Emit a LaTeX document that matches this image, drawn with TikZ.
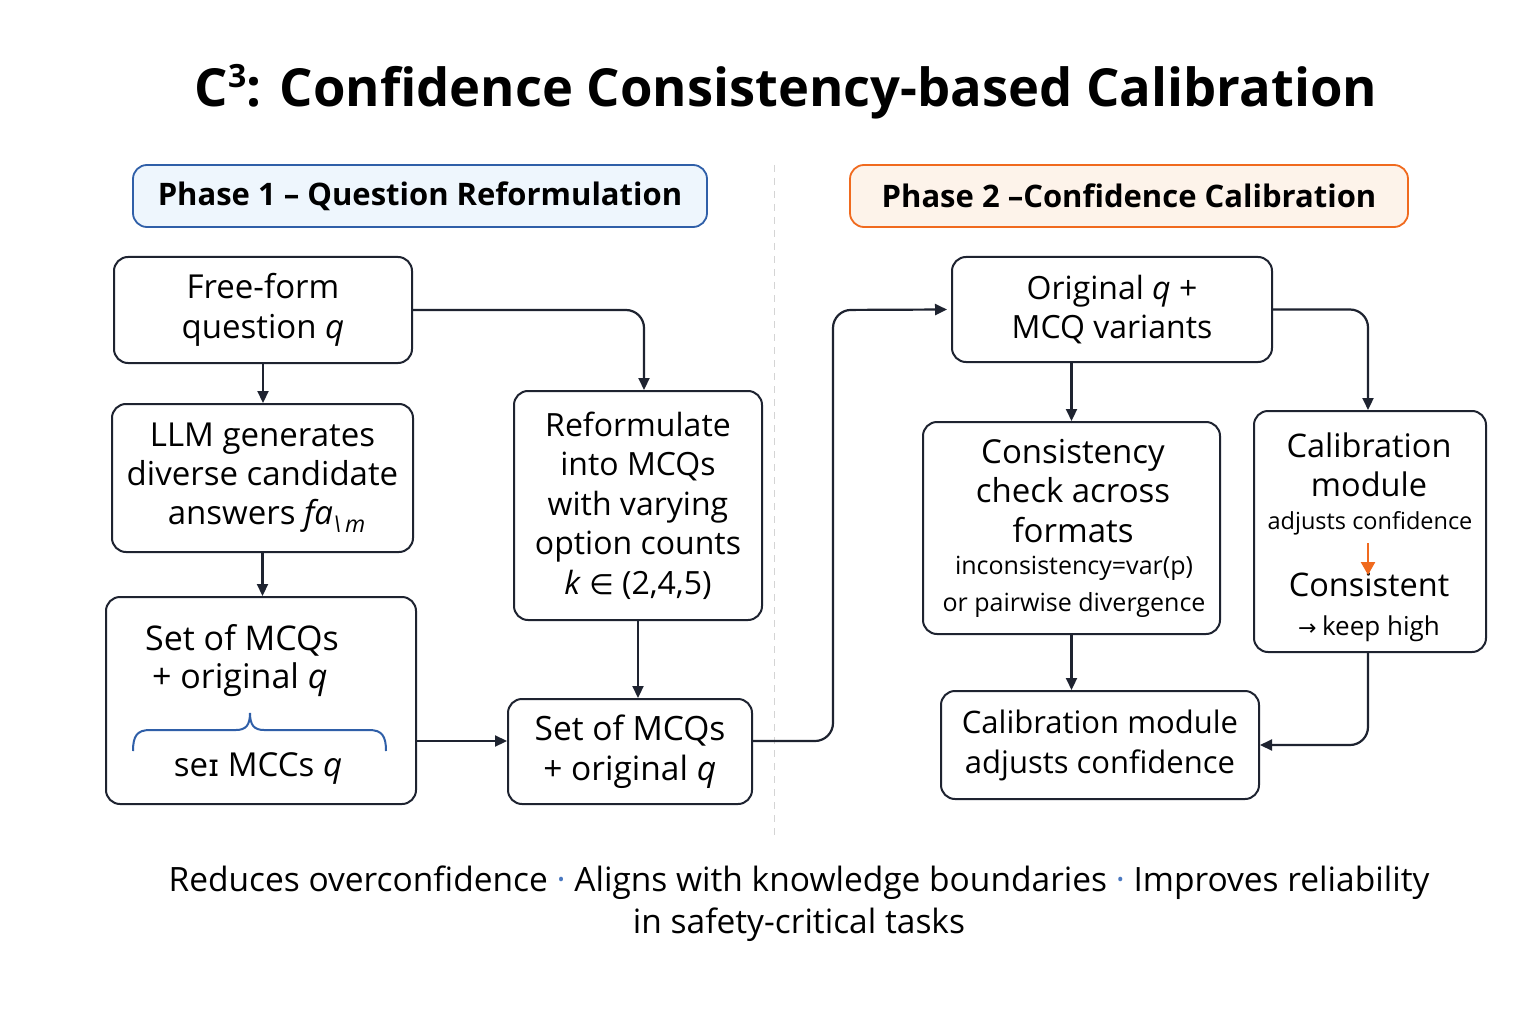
\documentclass[tikz,border=0pt]{standalone}
\usepackage{fontspec}
\setmainfont{Open Sans}
\newfontfamily\djv{DejaVu Sans}
\usetikzlibrary{arrows.meta,calc}
\definecolor{ink}{HTML}{1E2330}
\definecolor{pblue}{HTML}{2F5FA8}
\definecolor{pbluefill}{HTML}{EEF6FD}
\definecolor{porange}{HTML}{F06A1E}
\definecolor{porangefill}{HTML}{FDF3EA}
\definecolor{divgray}{HTML}{D4D4D4}
\definecolor{dotblue}{HTML}{4A78C0}
\begin{document}
\begin{tikzpicture}[x=1pt,y=-1pt,
  box/.style={draw=ink, line width=2pt, rounded corners=14pt, fill=white, inner sep=0pt, align=center,
    font=\fontsize{32}{39.5}\selectfont},
  phase/.style={line width=1.8pt, rounded corners=14pt, inner sep=0pt,
    font=\fontsize{31}{36}\selectfont\bfseries},
  txt/.style={inner sep=0pt, align=center, font=\fontsize{32.5}{39.5}\selectfont},
  small/.style={inner sep=0pt, align=center, font=\fontsize{25}{37}\selectfont},
  arr/.style={draw=ink, line width=2.2pt, -{Triangle[length=12pt,width=11pt]}, rounded corners=18pt},
  oarr/.style={draw=porange, line width=2.4pt, -{Triangle[length=13pt,width=14pt]}}]
\useasboundingbox[fill=white] (0,0) rectangle (1536,1024);

% title
\node[inner sep=0pt, font=\fontsize{52.5}{60}\selectfont\bfseries] (title) at (786,92)
  {C\raisebox{19pt}{\fontsize{32}{32}\selectfont\bfseries 3}: Confidence Consistency-based Calibration};

% phase headers
\node[phase, draw=pblue, fill=pbluefill, minimum width=574pt, minimum height=62pt] (ph1) at (420,196)
  {Phase 1 -- Question Reformulation};
\node[phase, draw=porange, fill=porangefill, minimum width=558pt, minimum height=62pt] (ph2) at (1129,196)
  {Phase 2 --Confidence Calibration};

% divider
\coordinate (dtop) at (774,165);
\coordinate (dbot) at (774,840);
\draw[divgray, line width=1pt, dash pattern=on 7pt off 6pt] (dtop) -- (dbot);

% phase 1 boxes
\node[box, minimum width=298pt, minimum height=106pt, font=\fontsize{33}{40}\selectfont] (ff) at (263,310)
  {Free-form\\question \textit{q}};
\node[box, minimum width=301pt, minimum height=148pt, font=\fontsize{33}{39}\selectfont] (llm) at (262.5,478)
  {LLM generates\\diverse candidate\\\ answers \textit{fa\textsubscript{\textbackslash\,m}}};
\node[box, minimum width=310pt, minimum height=207pt] (setl) at (261,700.5) {};
\node[txt, anchor=west, font=\fontsize{34}{40}\selectfont] (setl1) at (145,640) {Set of MCQs};
\node[txt, anchor=west, font=\fontsize{34}{40}\selectfont] (setl2) at (152,680) {+ original \textit{q}};
\draw[pblue, line width=2pt] (133,751) .. controls (133,736) and (137,730) .. (150,730) -- (236,730)
  .. controls (246,730) and (250,725) .. (250,713) .. controls (250,725) and (254,730) .. (264,730)
  -- (369,730) .. controls (382,730) and (386,736) .. (386,751);
\node[txt, font=\fontsize{33}{40}\selectfont] (setl3) at (258,768) {se{\djv\fontsize{30}{40}\selectfont ɪ} MCCs \textit{q}};

\node[box, minimum width=248pt, minimum height=229pt] (ref) at (638,505.5)
  {Reformulate\\into MCQs\\with varying\\option counts\\\textit{k} {\djv\fontsize{28}{30}\selectfont ∈} (2,4,5)};
\node[box, minimum width=244pt, minimum height=105pt, align=left, font=\fontsize{33.5}{40}\selectfont] (setr) at (630,751.5)
  {Set of MCQs\\\ + original \textit{q}};

% phase 2 boxes
\node[box, minimum width=320pt, minimum height=105pt] (orig) at (1112,309.5)
  {Original \textit{q} +\\MCQ variants};
\node[box, minimum width=297pt, minimum height=212pt] (cons) at (1071.5,528) {};
\node[txt, font=\fontsize{33}{39.5}\selectfont] (cons1) at (1073,491) {Consistency\\check across\\formats};
\node[small] (cons2) at (1074,587) {inconsistency=var(p)\\or pairwise divergence};

\node[box, minimum width=232pt, minimum height=241pt] (calm) at (1370,531.5) {};
\node[txt] (calm1) at (1369,465) {Calibration\\module};
\node[small, font=\fontsize{23.5}{30}\selectfont] (calm2) at (1370,523) {adjusts confidence};
\node[txt] (calm3) at (1369,607) {Consistent\\{\djv\fontsize{22}{24}\selectfont →}\,{\fontsize{26}{30}\selectfont keep high}};
\coordinate (oa1) at (1368,543);
\coordinate (oa2) at (1368,575);
\draw[oarr] (oa1) -- (oa2);

\node[box, minimum width=318pt, minimum height=108pt, font=\fontsize{31}{40}\selectfont] (adj) at (1100,745)
  {Calibration module\\adjusts confidence};

% connectors
\draw[arr] (ff.south) -- (ff.south |- llm.north);
\draw[arr] (ff.east) -| ($(ref.north)+(6,0)$);
\draw[arr] (llm.south) -- (llm.south |- setl.north);
\draw[arr] (ref.south) -- (ref.south |- setr.north);
\draw[arr] ($(setl.east)+(0,40.5)$) -- ($(setr.west)+(0,-10.5)$);
\coordinate (j1) at (833,310);
\draw[arr] ($(setr.east)+(0,-10.5)$) -| (j1) -- ($(orig.west)+(-4,0)$);
\draw[arr] (cons.north |- orig.south) -- (cons.north);
\draw[arr] (orig.east) -| ($(calm.north)+(-2,0)$);
\draw[arr] (cons.south) -- (cons.south |- adj.north);
\draw[arr] ($(calm.south)+(-2,0)$) |- (adj.east);

% bottom text
\node[txt, font=\fontsize{33.5}{42}\selectfont] (foot) at (799,904)
  {Reduces overconfidence \textcolor{dotblue}{\fontsize{34}{34}\selectfont·} Aligns with knowledge boundaries \textcolor{dotblue}{\fontsize{34}{34}\selectfont·} Improves reliability\\in safety-critical tasks};
\end{tikzpicture}
\end{document}
